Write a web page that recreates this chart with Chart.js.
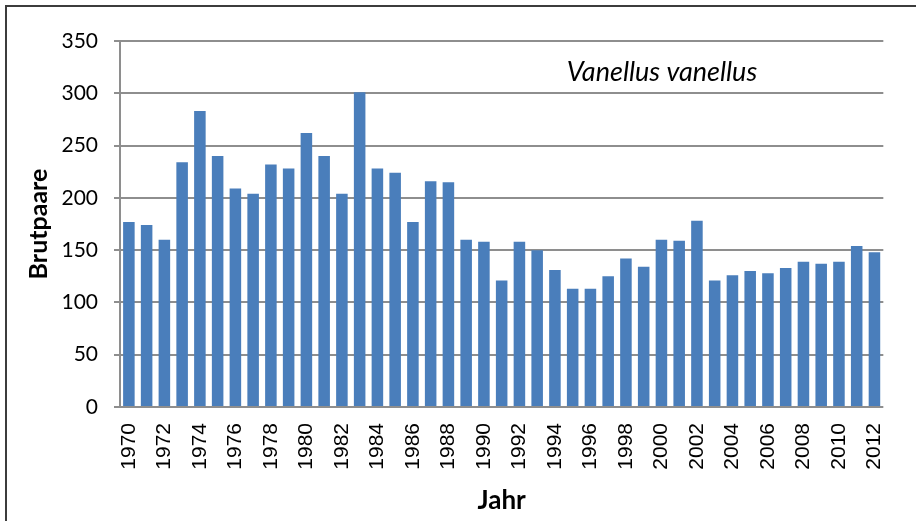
<!DOCTYPE html>
<html><head><meta charset="utf-8">
<script src="https://cdn.jsdelivr.net/npm/chart.js@4/dist/chart.umd.min.js"></script>
<style>
html,body{margin:0;padding:0;background:#fff;overflow:hidden;}
#wrap{position:relative;width:916px;height:521px;overflow:hidden;}
#frame{position:absolute;left:5px;top:5px;width:1000px;height:1000px;border:2px solid #3c3c3c;pointer-events:none;}
canvas{position:absolute;left:0;top:0;}
</style></head><body>
<div id="wrap"><canvas id="c" width="916" height="521"></canvas><div id="frame"></div></div>
<script>
const years = ['1970','1971','1972','1973','1974','1975','1976','1977','1978','1979',
  '1980','1981','1982','1983','1984','1985','1986','1987','1988','1989',
  '1990','1991','1992','1993','1994','1995','1996','1997','1998','1999',
  '2000','2001','2002','2003','2004','2005','2006','2007','2008','2009',
  '2010','2011','2012'];
const breedingPairs = [177,174,160,234,283,240,209,204,232,228,
  262,240,204,301,228,224,177,216,215,160,
  158,121,158,150,131,113,113,125,142,134,
  160,159,178,121,126,130,128,133,139,137,
  139,154,148];
const yMin = 0, yMax = 350, yStep = 50;
const speciesName = 'Vanellus vanellus';
const xTitle = 'Jahr';
const yTitle = 'Brutpaare';

const gridColor = '#8e8e8e';

const speciesLabel = {
  id: 'speciesLabel',
  afterDraw(chart) {
    const {ctx, chartArea} = chart;
    ctx.save();
    ctx.font = 'italic 27px Lato, "Open Sans", sans-serif';
    ctx.fillStyle = '#000';
    ctx.textAlign = 'center';
    ctx.textBaseline = 'middle';
    const x = chartArea.left + (chartArea.right - chartArea.left) * 0.71;
    const y = chartArea.top + 31;
    ctx.fillText(speciesName, x, y);
    ctx.restore();
  }
};

new Chart(document.getElementById('c'), {
  type: 'bar',
  data: {
    labels: years,
    datasets: [{
      data: breedingPairs,
      backgroundColor: '#4a7ebb',
      borderWidth: 0,
      categoryPercentage: 1,
      barPercentage: 0.65
    }]
  },
  options: {
    responsive: false,
    devicePixelRatio: 1,
    animation: false,
    layout: {padding: {left: 10, top: 41, right: 30, bottom: 0}},
    plugins: {legend: {display: false}, tooltip: {enabled: false}, title: {display: false}},
    scales: {
      x: {
        grid: {display: false, drawTicks: false},
        border: {display: false},
        ticks: {
          autoSkip: false, minRotation: 90, maxRotation: 90, padding: 16,
          color: '#000',
          font: {family: '"Liberation Sans", Arial, sans-serif', size: 21},
          callback: function(v, i) { return i % 2 === 0 ? years[i] : ''; }
        },
        title: {display: true, text: xTitle, color: '#000',
          font: {family: 'Lato, "Open Sans", sans-serif', size: 26, weight: 'bold'},
          padding: {top: 0, bottom: 5}},
        afterFit: s => { s.height = 114; }
      },
      y: {
        min: yMin, max: yMax,
        ticks: {stepSize: yStep, padding: 16, color: '#000',
          font: {family: 'Lato, "Open Sans", sans-serif', size: 21}},
        grid: {color: gridColor, lineWidth: 2, tickLength: 6, tickColor: gridColor},
        border: {display: true, color: gridColor, width: 2},
        title: {display: true, text: yTitle, color: '#000',
          font: {family: 'Lato, "Open Sans", sans-serif', size: 25, weight: 'bold'},
          padding: {top: 14, bottom: 0}},
        afterFit: s => { s.width = 110; }
      }
    }
  },
  plugins: [speciesLabel]
});
</script>
</body></html>
